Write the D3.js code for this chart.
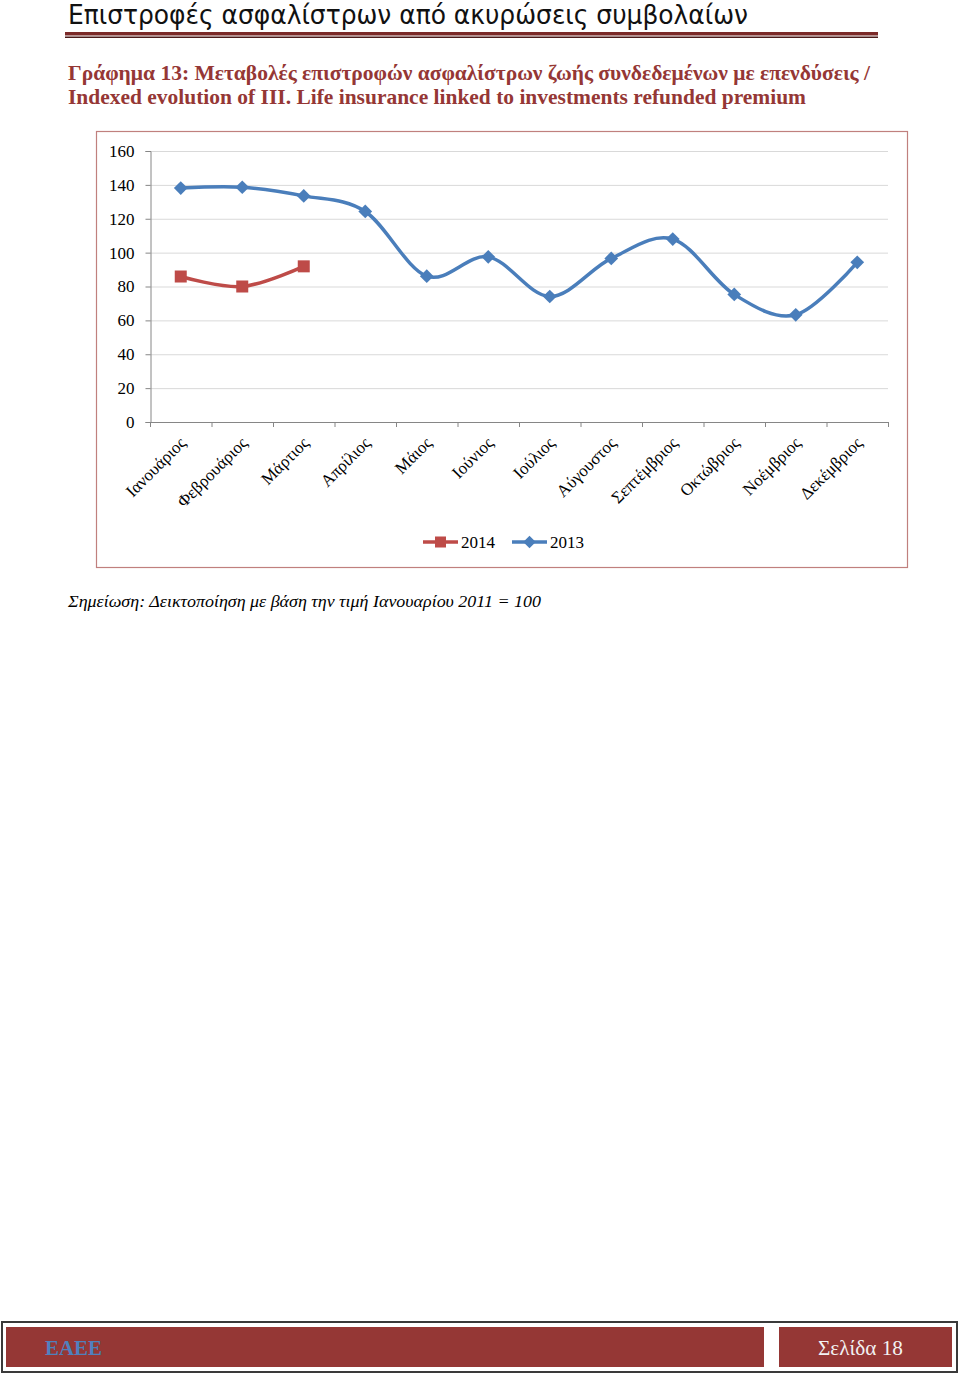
<!DOCTYPE html>
<html>
<head>
<meta charset="utf-8">
<script src="https://cdn.jsdelivr.net/npm/d3@7"></script>
<style>
  html, body { margin: 0; padding: 0; background: #fff; }
  svg { display: block; }
</style>
</head>
<body>
<svg id="page" width="960" height="1376"></svg>
<script>
const months = ["Ιανουάριος","Φεβρουάριος","Μάρτιος","Απρίλιος","Μάιος","Ιούνιος","Ιούλιος","Αύγουστος","Σεπτέμβριος","Οκτώβριος","Νοέμβριος","Δεκέμβριος"];
const values2013 = [138.1, 138.6, 133.5, 124.3, 86.1, 97.5, 74.1, 96.6, 108.0, 75.3, 63.3, 94.3];
const values2014 = [85.9, 80.0, 91.9];
const yTicks = [0, 20, 40, 60, 80, 100, 120, 140, 160];
const seriesNames = ["2014", "2013"];

const headerText = "Επιστροφές ασφαλίστρων από ακυρώσεις συμβολαίων";
const titleLine1 = "Γράφημα 13: Μεταβολές επιστροφών ασφαλίστρων ζωής συνδεδεμένων με επενδύσεις /";
const titleLine2 = "Indexed evolution of III. Life insurance linked to investments refunded premium";
const noteText = "Σημείωση: Δεικτοποίηση με βάση την τιμή Ιανουαρίου 2011 = 100";
const footerLeft = "ΕΑΕΕ";
const footerRight = "Σελίδα 18";

const svg = d3.select("#page");
const serif = "'Liberation Serif','Times New Roman',serif";
const red = "#953735";

// Header
svg.append("text").attr("x", 68).attr("y", 24)
  .attr("font-family", "'Liberation Sans Narrow','DejaVu Sans Condensed','Open Sans',sans-serif")
  .attr("font-size", 27).attr("fill", "#111")
  .attr("textLength", 680).attr("lengthAdjust", "spacingAndGlyphs")
  .text(headerText);
svg.append("rect").attr("x", 65).attr("y", 32).attr("width", 813).attr("height", 3.5).attr("fill", "#7b2a28");
svg.append("rect").attr("x", 65).attr("y", 36.5).attr("width", 813).attr("height", 1.5).attr("fill", "#4a1a19");

// Title
svg.append("text").attr("x", 68).attr("y", 80)
  .attr("font-family", serif).attr("font-weight", "bold").attr("font-size", 20).attr("fill", red)
  .attr("textLength", 802).attr("lengthAdjust", "spacingAndGlyphs")
  .text(titleLine1);
svg.append("text").attr("x", 68).attr("y", 104)
  .attr("font-family", serif).attr("font-weight", "bold").attr("font-size", 20).attr("fill", red)
  .attr("textLength", 738).attr("lengthAdjust", "spacingAndGlyphs")
  .text(titleLine2);

// Chart frame
svg.append("rect").attr("x", 96.5).attr("y", 131.5).attr("width", 811).attr("height", 436)
  .attr("fill", "#fff").attr("stroke", "#c0807e").attr("stroke-width", 1.2);

const plot = { left: 150, right: 888, top: 151, bottom: 422 };
const x = d3.scaleBand().domain(months).range([plot.left, plot.right]);
const y = d3.scaleLinear().domain([0, 160]).range([plot.bottom, plot.top]);

const g = svg.append("g");

// gridlines
g.selectAll("line.grid").data(yTicks.filter(d => d > 0)).enter().append("line")
  .attr("x1", plot.left).attr("x2", plot.right)
  .attr("y1", d => y(d) + 0.5).attr("y2", d => y(d) + 0.5)
  .attr("stroke", "#d9d9d9").attr("stroke-width", 1);

// y axis
const yAxis = g.append("g").attr("transform", `translate(${plot.left + 0.5},0)`)
  .call(d3.axisLeft(y).tickValues(yTicks).tickSize(5).tickPadding(11));
yAxis.select(".domain").attr("stroke", "#868686");
yAxis.selectAll(".tick line").attr("stroke", "#868686");
yAxis.selectAll(".tick text").attr("font-family", serif).attr("font-size", 17).attr("fill", "#000");

// x axis
const xAxis = g.append("g").attr("transform", `translate(0,${plot.bottom + 0.5})`)
  .call(d3.axisBottom(x).tickSize(0).tickFormat(""));
xAxis.select(".domain").attr("stroke", "#868686").attr("d", `M${plot.left},0H${plot.right}`);
const tickPos = d3.range(months.length + 1).map(i => plot.left + i * x.step());
g.selectAll("line.xtick").data(tickPos).enter().append("line")
  .attr("x1", d => d + 0.5).attr("x2", d => d + 0.5)
  .attr("y1", plot.bottom).attr("y2", plot.bottom + 5)
  .attr("stroke", "#868686");
g.selectAll("text.xlab").data(months).enter().append("text")
  .attr("font-family", serif).attr("font-size", 17).attr("fill", "#000")
  .attr("text-anchor", "end")
  .attr("transform", d => `translate(${x(d) + x.bandwidth() / 2 + 6},${plot.bottom + 22}) rotate(-45)`)
  .text(d => d);

const cx = (d, i) => x(months[i]) + x.bandwidth() / 2;
const line = d3.line().x(cx).y(d => y(d)).curve(d3.curveCatmullRom.alpha(0));

const blue = "#4a7ebb";
const redS = "#be4b48";

// 2013 series
g.append("path").datum(values2013).attr("d", line)
  .attr("fill", "none").attr("stroke", blue).attr("stroke-width", 3.5).attr("stroke-linejoin", "round");
g.selectAll("path.d13").data(values2013).enter().append("path")
  .attr("d", d3.symbol().type(d3.symbolDiamond2).size(120))
  .attr("transform", (d, i) => `translate(${cx(d, i)},${y(d)})`)
  .attr("fill", blue);

// 2014 series
g.append("path").datum(values2014).attr("d", line)
  .attr("fill", "none").attr("stroke", redS).attr("stroke-width", 3.5).attr("stroke-linejoin", "round");
g.selectAll("rect.d14").data(values2014).enter().append("rect")
  .attr("x", (d, i) => cx(d, i) - 6).attr("y", d => y(d) - 6)
  .attr("width", 12).attr("height", 12)
  .attr("fill", redS);

// Legend
const leg = svg.append("g");
const legItems = [
  { name: seriesNames[0], color: redS, x0: 423, marker: "square" },
  { name: seriesNames[1], color: blue, x0: 512, marker: "diamond" }
];
const ly = 542;
legItems.forEach(it => {
  leg.append("line").attr("x1", it.x0).attr("x2", it.x0 + 35).attr("y1", ly).attr("y2", ly)
    .attr("stroke", it.color).attr("stroke-width", 3.5);
  if (it.marker === "square") {
    leg.append("rect").attr("x", it.x0 + 17.5 - 5.5).attr("y", ly - 5.5).attr("width", 11).attr("height", 11).attr("fill", it.color);
  } else {
    leg.append("path").attr("d", d3.symbol().type(d3.symbolDiamond2).size(100))
      .attr("transform", `translate(${it.x0 + 17.5},${ly})`).attr("fill", it.color);
  }
  leg.append("text").attr("x", it.x0 + 38).attr("y", ly + 6)
    .attr("font-family", serif).attr("font-size", 17).attr("fill", "#000").text(it.name);
});

// Note
svg.append("text").attr("x", 68).attr("y", 607)
  .attr("font-family", serif).attr("font-style", "italic").attr("font-size", 17).attr("fill", "#000")
  .attr("textLength", 473).attr("lengthAdjust", "spacingAndGlyphs")
  .text(noteText);

// Footer
svg.append("rect").attr("x", 2).attr("y", 1322).attr("width", 955).attr("height", 50)
  .attr("fill", "#fff").attr("stroke", "#3a3a3a").attr("stroke-width", 2);
svg.append("rect").attr("x", 6).attr("y", 1327).attr("width", 758).attr("height", 40).attr("fill", red);
svg.append("rect").attr("x", 779).attr("y", 1327).attr("width", 173).attr("height", 40).attr("fill", red);
svg.append("text").attr("x", 45).attr("y", 1355)
  .attr("font-family", serif).attr("font-weight", "bold").attr("font-size", 21).attr("fill", "#4f81bd")
  .attr("textLength", 57).attr("lengthAdjust", "spacingAndGlyphs")
  .text(footerLeft);
svg.append("text").attr("x", 818).attr("y", 1355)
  .attr("font-family", serif).attr("font-size", 21).attr("fill", "#f2f2f2")
  .attr("textLength", 85).attr("lengthAdjust", "spacingAndGlyphs")
  .text(footerRight);
</script>
</body>
</html>
